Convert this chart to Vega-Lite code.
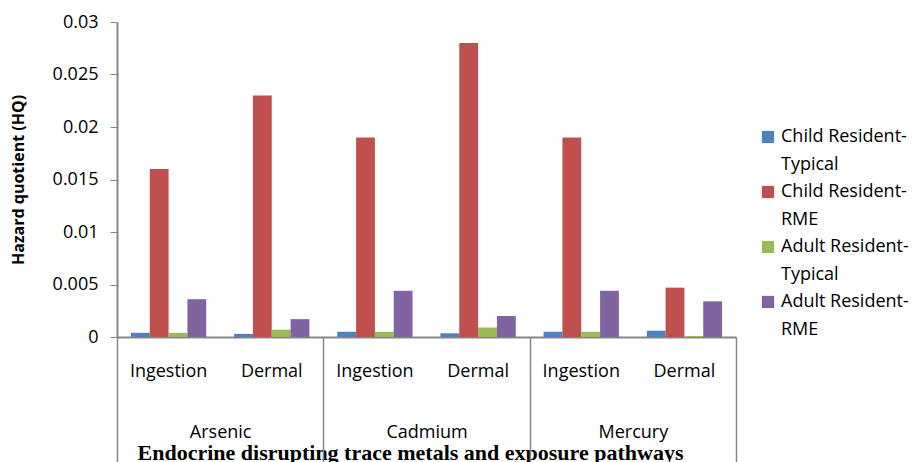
{
  "$schema": "https://vega.github.io/schema/vega-lite/v6.json",
  "width": 619,
  "height": 315,
  "autosize": "none",
  "padding": {"left": 117, "top": 22, "right": 182, "bottom": 125},
  "background": "white",
  "config": {
    "view": {"stroke": null},
    "font": "Open Sans",
    "axis": {"grid": false},
    "style": {"guide-label": {"lineHeight": 28}}
  },
  "data": {
    "values": [
      {"cat": "Arsenic|Ingestion", "metal": "Arsenic", "series": "Child Resident-Typical", "value": 0.0004},
      {"cat": "Arsenic|Ingestion", "metal": "Arsenic", "series": "Child Resident-RME", "value": 0.016},
      {"cat": "Arsenic|Ingestion", "metal": "Arsenic", "series": "Adult Resident-Typical", "value": 0.0004},
      {"cat": "Arsenic|Ingestion", "metal": "Arsenic", "series": "Adult Resident-RME", "value": 0.0036},
      {"cat": "Arsenic|Dermal", "metal": "Arsenic", "series": "Child Resident-Typical", "value": 0.0003},
      {"cat": "Arsenic|Dermal", "metal": "Arsenic", "series": "Child Resident-RME", "value": 0.023},
      {"cat": "Arsenic|Dermal", "metal": "Arsenic", "series": "Adult Resident-Typical", "value": 0.0007},
      {"cat": "Arsenic|Dermal", "metal": "Arsenic", "series": "Adult Resident-RME", "value": 0.0017},
      {"cat": "Cadmium|Ingestion", "metal": "Cadmium", "series": "Child Resident-Typical", "value": 0.0005},
      {"cat": "Cadmium|Ingestion", "metal": "Cadmium", "series": "Child Resident-RME", "value": 0.019},
      {"cat": "Cadmium|Ingestion", "metal": "Cadmium", "series": "Adult Resident-Typical", "value": 0.0005},
      {"cat": "Cadmium|Ingestion", "metal": "Cadmium", "series": "Adult Resident-RME", "value": 0.0044},
      {"cat": "Cadmium|Dermal", "metal": "Cadmium", "series": "Child Resident-Typical", "value": 0.00035},
      {"cat": "Cadmium|Dermal", "metal": "Cadmium", "series": "Child Resident-RME", "value": 0.028},
      {"cat": "Cadmium|Dermal", "metal": "Cadmium", "series": "Adult Resident-Typical", "value": 0.0009},
      {"cat": "Cadmium|Dermal", "metal": "Cadmium", "series": "Adult Resident-RME", "value": 0.002},
      {"cat": "Mercury|Ingestion", "metal": "Mercury", "series": "Child Resident-Typical", "value": 0.0005},
      {"cat": "Mercury|Ingestion", "metal": "Mercury", "series": "Child Resident-RME", "value": 0.019},
      {"cat": "Mercury|Ingestion", "metal": "Mercury", "series": "Adult Resident-Typical", "value": 0.0005},
      {"cat": "Mercury|Ingestion", "metal": "Mercury", "series": "Adult Resident-RME", "value": 0.0044},
      {"cat": "Mercury|Dermal", "metal": "Mercury", "series": "Child Resident-Typical", "value": 0.0006},
      {"cat": "Mercury|Dermal", "metal": "Mercury", "series": "Child Resident-RME", "value": 0.0047},
      {"cat": "Mercury|Dermal", "metal": "Mercury", "series": "Adult Resident-Typical", "value": 0.0001},
      {"cat": "Mercury|Dermal", "metal": "Mercury", "series": "Adult Resident-RME", "value": 0.0034}
    ]
  },
  "layer": [
    {
      "mark": {"type": "bar"},
      "encoding": {
        "x": {
          "field": "cat",
          "type": "nominal",
          "sort": null,
          "scale": {"type": "band", "paddingInner": 0.27, "paddingOuter": 0.135},
          "axis": {
            "title": "Endocrine disrupting trace metals and exposure pathways",
            "titleFont": "Liberation Serif",
            "titleFontWeight": "bold",
            "titleFontSize": 22,
            "titleColor": "black",
            "titleX": 293,
            "titleY": 122,
            "titleBaseline": "alphabetic",
            "titleAlign": "center",
            "labelExpr": "split(datum.label, '|')[1]",
            "labelAngle": 0,
            "labelFontSize": 18,
            "labelColor": "black",
            "labelBaseline": "middle",
            "labelPadding": 34,
            "ticks": false,
            "domainColor": "#868686",
            "domainWidth": 2
          }
        },
        "xOffset": {
          "field": "series",
          "sort": ["Child Resident-Typical", "Child Resident-RME", "Adult Resident-Typical", "Adult Resident-RME"]
        },
        "y": {
          "field": "value",
          "type": "quantitative",
          "scale": {"domain": [0, 0.03]},
          "axis": {
            "title": "Hazard quotient (HQ)",
            "titleFontSize": 16,
            "titleFontWeight": "bold",
            "titleColor": "black",
            "titlePadding": 26,
            "values": [0, 0.005, 0.01, 0.015, 0.02, 0.025, 0.03],
            "format": "~g",
            "labelFontSize": 18,
            "labelColor": "black",
            "labelPadding": 12,
            "tickSize": 7,
            "tickColor": "#868686",
            "domainColor": "#868686",
            "domainWidth": 2
          }
        },
        "color": {
          "field": "series",
          "type": "nominal",
          "scale": {
            "domain": ["Child Resident-Typical", "Child Resident-RME", "Adult Resident-Typical", "Adult Resident-RME"],
            "range": ["#4F81BD", "#C0504D", "#9BBB59", "#8064A2"]
          },
          "legend": {
            "title": null,
            "orient": "none",
            "legendX": 642,
            "legendY": 106,
            "symbolType": "square",
            "symbolSize": 150,
            "symbolStrokeWidth": 0,
            "labelFontSize": 18,
            "labelColor": "black",
            "labelLimit": 200,
            "rowPadding": 9,
            "labelExpr": "[split(datum.label, '-')[0] + '-', split(datum.label, '-')[1]]"
          }
        }
      }
    },
    {
      "mark": {"type": "point", "opacity": 0},
      "encoding": {
        "x": {
          "field": "metal",
          "type": "nominal",
          "sort": ["Arsenic", "Cadmium", "Mercury"],
          "scale": {"type": "band", "paddingInner": 0, "paddingOuter": 0},
          "axis": {
            "orient": "bottom",
            "title": null,
            "tickBand": "extent",
            "tickSize": 125,
            "tickColor": "#868686",
            "tickWidth": 1.5,
            "domain": false,
            "labelAngle": 0,
            "labelFontSize": 18,
            "labelColor": "black",
            "labelBaseline": "middle",
            "labelPadding": -30
          }
        }
      }
    }
  ],
  "resolve": {"scale": {"x": "independent"}, "axis": {"x": "independent"}}
}
